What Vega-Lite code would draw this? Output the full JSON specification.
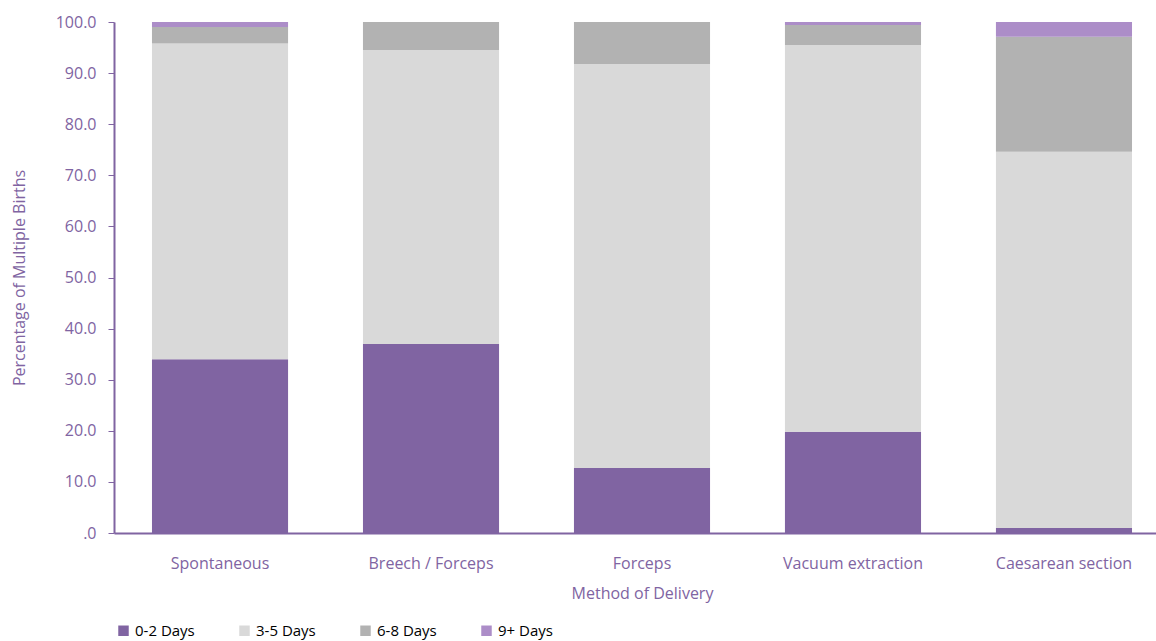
{
  "$schema": "https://vega.github.io/schema/vega-lite/v6.json",
  "width": 1056,
  "height": 511,
  "autosize": {"type": "none"},
  "padding": {"left": 114, "top": 22, "right": 0, "bottom": 108},
  "background": "white",
  "config": {
    "view": {"stroke": null},
    "font": "Open Sans",
    "axis": {"labelColor": "#8064A2", "titleColor": "#8064A2", "domainColor": "#8064A2", "tickColor": "#8064A2", "labelFont": "Open Sans", "titleFont": "Open Sans", "titleFontWeight": "normal", "grid": false}
  },
  "data": {
    "values": [
      {"method": "Spontaneous", "los": "0-2 Days", "k": 1, "pct": 34.0},
      {"method": "Spontaneous", "los": "3-5 Days", "k": 2, "pct": 61.8},
      {"method": "Spontaneous", "los": "6-8 Days", "k": 3, "pct": 3.2},
      {"method": "Spontaneous", "los": "9+ Days", "k": 4, "pct": 1.0},
      {"method": "Breech / Forceps", "los": "0-2 Days", "k": 1, "pct": 37.0},
      {"method": "Breech / Forceps", "los": "3-5 Days", "k": 2, "pct": 57.5},
      {"method": "Breech / Forceps", "los": "6-8 Days", "k": 3, "pct": 5.5},
      {"method": "Breech / Forceps", "los": "9+ Days", "k": 4, "pct": 0.0},
      {"method": "Forceps", "los": "0-2 Days", "k": 1, "pct": 12.7},
      {"method": "Forceps", "los": "3-5 Days", "k": 2, "pct": 79.1},
      {"method": "Forceps", "los": "6-8 Days", "k": 3, "pct": 8.2},
      {"method": "Forceps", "los": "9+ Days", "k": 4, "pct": 0.0},
      {"method": "Vacuum extraction", "los": "0-2 Days", "k": 1, "pct": 19.8},
      {"method": "Vacuum extraction", "los": "3-5 Days", "k": 2, "pct": 75.7},
      {"method": "Vacuum extraction", "los": "6-8 Days", "k": 3, "pct": 3.9},
      {"method": "Vacuum extraction", "los": "9+ Days", "k": 4, "pct": 0.6},
      {"method": "Caesarean section", "los": "0-2 Days", "k": 1, "pct": 1.0},
      {"method": "Caesarean section", "los": "3-5 Days", "k": 2, "pct": 73.6},
      {"method": "Caesarean section", "los": "6-8 Days", "k": 3, "pct": 22.5},
      {"method": "Caesarean section", "los": "9+ Days", "k": 4, "pct": 2.9}
    ]
  },
  "mark": {"type": "bar"},
  "encoding": {
    "x": {
      "field": "method", "type": "nominal", "sort": null,
      "scale": {"paddingInner": 0.355, "paddingOuter": 0.18},
      "axis": {"title": "Method of Delivery", "labelAngle": 0, "ticks": false, "labelFontSize": 16, "titleFontSize": 16, "labelPadding": 22, "titlePadding": 14, "domainWidth": 2}
    },
    "y": {
      "field": "pct", "type": "quantitative", "stack": "zero",
      "scale": {"domain": [0, 100], "nice": false},
      "axis": {"title": "Percentage of Multiple  Births", "values": [0,10,20,30,40,50,60,70,80,90,100], "labelExpr": "datum.value == 0 ? '.0' : format(datum.value, '.1f')", "labelFontSize": 16, "titleFontSize": 16, "tickSize": 6, "labelPadding": 12, "titlePadding": 28, "domainWidth": 2}
    },
    "color": {
      "field": "los", "type": "nominal",
      "scale": {"domain": ["0-2 Days", "3-5 Days", "6-8 Days", "9+ Days"], "range": ["#8064A2", "#D9D9D9", "#B2B2B2", "#AC8DC8"]},
      "legend": {"title": null, "orient": "none", "legendX": 2, "legendY": 601, "direction": "horizontal", "symbolType": "square", "symbolSize": 110, "symbolStrokeWidth": 0, "labelFontSize": 15, "labelColor": "#000000", "labelFont": "Open Sans", "gridAlign": "all", "columnPadding": 42, "labelOffset": 4}
    },
    "order": {"field": "k", "type": "quantitative"}
  }
}
